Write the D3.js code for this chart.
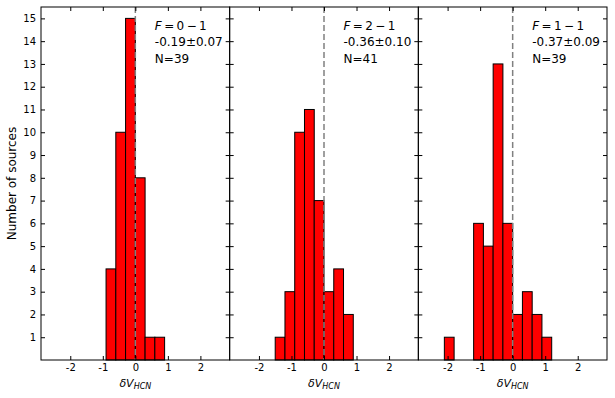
<!DOCTYPE html>
<html>
<head>
<meta charset="utf-8">
<script src="https://cdn.jsdelivr.net/npm/d3@7"></script>
<style>
  body { margin: 0; background: #fff; }
  svg { display: block; font-family: "DejaVu Sans", sans-serif; }
</style>
</head>
<body>
<svg width="615" height="398"></svg>
<script>
// histogram data (lower bin edges + counts), bin width 0.3 km/s
const binWidth = 0.3;

const binsF01 = [-0.9, -0.6, -0.3, 0.0, 0.3, 0.6];
const countsF01 = [4, 10, 15, 8, 1, 1];

const binsF21 = [-1.5, -1.2, -0.9, -0.6, -0.3, 0.0, 0.3, 0.6];
const countsF21 = [1, 3, 10, 11, 7, 3, 4, 2];

const binsF11 = [-2.1, -1.2, -0.9, -0.6, -0.3, 0.0, 0.3, 0.6, 0.9];
const countsF11 = [1, 6, 5, 13, 6, 2, 3, 2, 1];

// labels
const transitions = ["0 \u2212 1", "2 \u2212 1", "1 \u2212 1"];
const meanLabels = ["-0.19\u00b10.07", "-0.36\u00b10.10", "-0.37\u00b10.09"];
const nLabels = ["N=39", "N=41", "N=39"];

const xTicks = [-2, -1, 0, 1, 2];
const yTicks = d3.range(1, 16);

const panels = [
    {bins: binsF01, counts: countsF01},
    {bins: binsF21, counts: countsF21},
    {bins: binsF11, counts: countsF11}
];

const plotLeft = 41, plotRight = 607, plotTop = 7, plotBottom = 360;
const panelW = (plotRight - plotLeft) / 3;

const svg = d3.select('svg');

const yScale = d3.scaleLinear()
    .domain([0, 15.5])
    .range([plotBottom, plotTop]);

panels.forEach((p, i) => {
    const x0 = plotLeft + i * panelW;
    const xScale = d3.scaleLinear()
        .domain([-2.9, 2.9])
        .range([x0, x0 + panelW]);

    const g = svg.append('g');

    // bars
    const data = p.bins.map((b, j) => ({lo: b, n: p.counts[j]}));
    g.selectAll('rect.bar')
        .data(data)
        .enter()
        .append('rect')
        .attr('class', 'bar')
        .attr('x', d => xScale(d.lo))
        .attr('y', d => yScale(d.n))
        .attr('width', d => xScale(d.lo + binWidth) - xScale(d.lo))
        .attr('height', d => yScale(0) - yScale(d.n))
        .attr('fill', '#ff0000')
        .attr('stroke', '#000')
        .attr('stroke-width', 1);

    // zero line
    g.append('line')
        .attr('x1', xScale(0)).attr('x2', xScale(0))
        .attr('y1', plotTop).attr('y2', plotBottom)
        .attr('stroke', '#808080')
        .attr('stroke-width', 1.5)
        .attr('stroke-dasharray', '6,3');

    // axes, inward ticks on all sides
    g.append('g')
        .attr('transform', 'translate(0,' + plotBottom + ')')
        .call(d3.axisBottom(xScale).tickValues(xTicks)
            .tickSizeInner(-4).tickSizeOuter(0).tickPadding(4)
            .tickFormat(d3.format('d')));
    g.append('g')
        .attr('transform', 'translate(0,' + plotTop + ')')
        .call(d3.axisTop(xScale).tickValues(xTicks)
            .tickSizeInner(-4).tickSizeOuter(0).tickFormat(''));
    g.append('g')
        .attr('transform', 'translate(' + x0 + ',0)')
        .call(d3.axisLeft(yScale).tickValues(yTicks)
            .tickSizeInner(-4).tickSizeOuter(0).tickPadding(5)
            .tickFormat(i === 0 ? d3.format('d') : ''));
    g.append('g')
        .attr('transform', 'translate(' + (x0 + panelW) + ',0)')
        .call(d3.axisRight(yScale).tickValues(yTicks)
            .tickSizeInner(-4).tickSizeOuter(0).tickFormat(''));

    g.selectAll('.domain').remove();
    g.selectAll('.tick line').attr('stroke', '#000').attr('stroke-width', 1);
    g.selectAll('.tick text')
        .attr('fill', '#000')
        .style('font-size', '10px')
        .style('font-family', '"DejaVu Sans", sans-serif')
        .text(function () { return this.textContent.replace('\u2212', '-'); });

    // frame
    g.append('rect')
        .attr('x', x0).attr('y', plotTop)
        .attr('width', panelW).attr('height', plotBottom - plotTop)
        .attr('fill', 'none')
        .attr('stroke', '#000')
        .attr('stroke-width', 1);

    // annotations
    const tx = xScale(0.6);
    const t1 = g.append('text')
        .attr('x', tx).attr('y', 29.5)
        .style('font-size', '12px');
    t1.append('tspan').style('font-style', 'italic').text('F');
    t1.append('tspan').text('\u2009=\u2009' + transitions[i].replace(/ /g, '\u2009'));
    g.append('text')
        .attr('x', tx).attr('y', 46)
        .style('font-size', '12px')
        .text(meanLabels[i]);
    g.append('text')
        .attr('x', tx).attr('y', 62.5)
        .style('font-size', '12px')
        .text(nLabels[i]);

    // x label
    const xl = g.append('text')
        .attr('x', xScale(0))
        .attr('y', 386.5)
        .attr('text-anchor', 'middle')
        .style('font-size', '11px')
        .style('font-style', 'italic');
    xl.append('tspan').text('\u03b4V');
    xl.append('tspan')
        .attr('dy', 2.5)
        .style('font-size', '8px')
        .text('HCN');
});

// y label
svg.append('text')
    .attr('transform', 'translate(16,' + ((plotTop + plotBottom) / 2) + ') rotate(-90)')
    .attr('text-anchor', 'middle')
    .style('font-size', '12px')
    .text('Number of sources');
</script>
</body>
</html>
